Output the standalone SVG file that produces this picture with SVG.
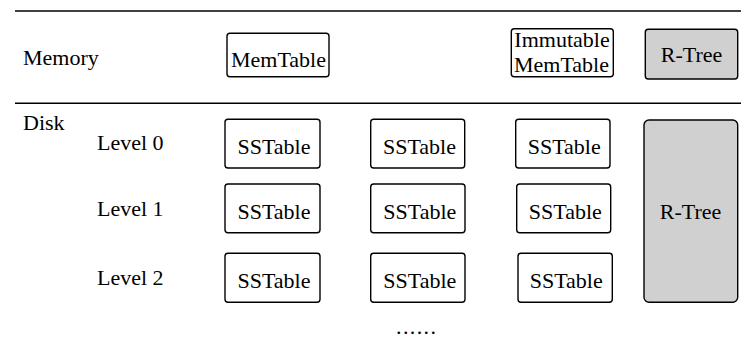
<svg xmlns="http://www.w3.org/2000/svg" width="741" height="354" viewBox="0 0 741 354">
<style>
text{font-family:"Liberation Serif","Times New Roman",serif;font-size:22px;fill:#000}
.c{text-anchor:middle}
.box{fill:#fff;stroke:#000;stroke-width:1.4}
.gray{fill:#d0d0d0;stroke:#000;stroke-width:1.4}
.sep{stroke:#000;stroke-width:1.6}
</style>
<rect width="741" height="354" fill="#fff"/>
<g id="separators">
<line class="sep" x1="15" y1="11" x2="741" y2="11"/>
<line class="sep" x1="15" y1="103.3" x2="741" y2="103.3"/>
</g>
<g id="labels">
<text x="23" y="65">Memory</text>
<text x="23" y="129.5">Disk</text>
<text x="97" y="150">Level 0</text>
<text x="97" y="216">Level 1</text>
<text x="97" y="284.5">Level 2</text>
<text x="396" y="334" style="letter-spacing:1.4px">......</text>
</g>
<g id="memtable">
<rect class="box" x="227" y="33.3" width="102" height="43.5" rx="3"/>
<text class="c" x="278.5" y="67">MemTable</text>
</g>
<g id="immutable">
<rect class="box" x="511.3" y="28.7" width="102" height="48" rx="3"/>
<text class="c" x="562" y="47">Immutable</text>
<text class="c" x="561.5" y="71.5">MemTable</text>
</g>
<g id="rtree-mem">
<rect class="gray" x="645.3" y="29.3" width="92.4" height="49.7" rx="3"/>
<text class="c" x="691.5" y="62">R-Tree</text>
</g>
<g id="l0-1"><rect class="box" x="225" y="119.3" width="95" height="48.7" rx="3"/><text class="c" x="274" y="154">SSTable</text></g>
<g id="l0-2"><rect class="box" x="370.7" y="119.3" width="94" height="48.7" rx="3"/><text class="c" x="419.5" y="154">SSTable</text></g>
<g id="l0-3"><rect class="box" x="515.7" y="119.3" width="94.3" height="48.7" rx="3"/><text class="c" x="564.2" y="154">SSTable</text></g>
<g id="l1-1"><rect class="box" x="225" y="184" width="95" height="48.7" rx="3"/><text class="c" x="274" y="219">SSTable</text></g>
<g id="l1-2"><rect class="box" x="370.7" y="184" width="94.3" height="48.7" rx="3"/><text class="c" x="419.8" y="219">SSTable</text></g>
<g id="l1-3"><rect class="box" x="516.7" y="184" width="94" height="48.7" rx="3"/><text class="c" x="565.3" y="219">SSTable</text></g>
<g id="l2-1"><rect class="box" x="225" y="253.3" width="95" height="49" rx="3"/><text class="c" x="274" y="287.5">SSTable</text></g>
<g id="l2-2"><rect class="box" x="370.7" y="253.3" width="94.3" height="49" rx="3"/><text class="c" x="419.8" y="287.5">SSTable</text></g>
<g id="l2-3"><rect class="box" x="518" y="253.3" width="94.3" height="49" rx="3"/><text class="c" x="566.2" y="287.5">SSTable</text></g>
<g id="rtree-disk">
<rect class="gray" x="644" y="120" width="93.7" height="182.3" rx="5"/>
<text class="c" x="690.5" y="219">R-Tree</text>
</g>
<g id="connectors"></g>
</svg>
